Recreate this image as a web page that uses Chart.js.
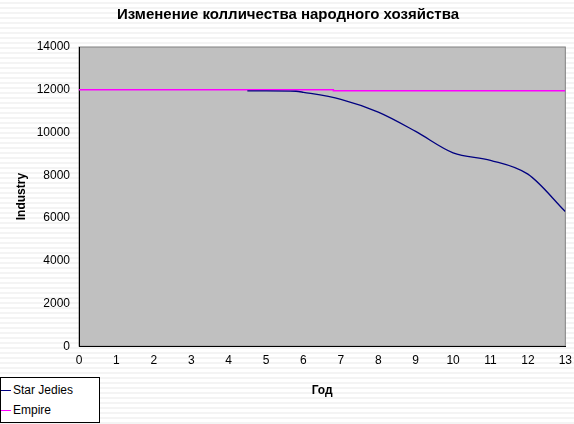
<!DOCTYPE html>
<html>
<head>
<meta charset="utf-8">
<script src="https://cdn.jsdelivr.net/npm/chart.js@4"></script>
<style>
  body { margin: 0; background: #fff; }
  #wrap { position: relative; width: 574px; height: 424px; background: repeating-linear-gradient(0deg, #f4f4f4 0 2px, #fff 2px 5px); }
  #legend { position: absolute; left: 0; top: 377px; width: 98px; height: 44px; border: 1px solid #000; background: #fff; font: 12px Arial, "Liberation Sans", sans-serif; }
  .row { height: 20px; line-height: 20px; white-space: nowrap; }
  .row i { display: inline-block; width: 10px; height: 0; border-top: 1px solid; vertical-align: middle; margin: 0 2px 0 0; }
</style>
</head>
<body>
<div id="wrap">
  <canvas id="c" width="574" height="424"></canvas>
  <div id="legend">
    <div class="row" style="margin-top:2px"><i style="border-color:#000080"></i>Star Jedies</div>
    <div class="row"><i style="border-color:#ff00ff"></i>Empire</div>
  </div>
</div>
<script>
// данные
const jediX = [4.5, 5, 5.8, 6, 7, 8, 9, 10, 11, 12, 13];
const jediY = [11950, 11950, 11930, 11880, 11550, 10950, 10050, 9050, 8700, 8050, 6300];
const empireX = [0, 6.8, 6.8, 13];
const empireY = [12000, 12000, 11950, 11950];
const xTicks = [0, 1, 2, 3, 4, 5, 6, 7, 8, 9, 10, 11, 12, 13];

const plotBg = {
  id: 'plotBg',
  beforeDraw(chart) {
    const { ctx, chartArea: a } = chart;
    ctx.save();
    ctx.fillStyle = '#c0c0c0';
    ctx.fillRect(a.left, a.top, a.right - a.left, a.bottom - a.top);
    ctx.strokeStyle = '#808080';
    ctx.strokeRect(a.left, a.top, a.right - a.left, a.bottom - a.top);
    ctx.restore();
  }
};

new Chart(document.getElementById('c'), {
  type: 'line',
  data: {
    datasets: [
      {
        label: 'Star Jedies',
        data: jediX.map((x, i) => ({ x: x, y: jediY[i] })),
        borderColor: '#000080',
        borderWidth: 1.3,
        pointRadius: 0,
        cubicInterpolationMode: 'monotone'
      },
      {
        label: 'Empire',
        data: empireX.map((x, i) => ({ x: x, y: empireY[i] })),
        borderColor: '#ff00ff',
        borderWidth: 1.5,
        pointRadius: 0,
        tension: 0
      }
    ]
  },
  options: {
    responsive: false,
    animation: false,
    layout: { padding: { top: 0, right: 8, bottom: 22, left: 10 } },
    plugins: {
      legend: { display: false },
      tooltip: { enabled: false },
      title: {
        display: true,
        text: 'Изменение колличества народного хозяйства',
        color: '#000',
        font: { family: 'Arial, "Liberation Sans"', size: 15, weight: 'bold' },
        padding: { top: 6, bottom: 23 }
      }
    },
    scales: {
      x: {
        type: 'linear',
        min: 0, max: 13,
        afterBuildTicks: axis => { axis.ticks = xTicks.map(v => ({ value: v })); },
        grid: { display: false, drawTicks: true, tickLength: 5, tickColor: '#000' },
        border: { color: '#000' },
        ticks: { color: '#000', font: { family: 'Arial, "Liberation Sans"', size: 12 }, maxRotation: 0, padding: 2 },
        title: { display: true, text: 'Год', color: '#000', font: { family: 'Arial, "Liberation Sans"', size: 12, weight: 'bold' }, padding: { top: 14 } }
      },
      y: {
        min: 0, max: 14000,
        ticks: { stepSize: 2000, color: '#000', font: { family: 'Arial, "Liberation Sans"', size: 12 }, padding: 4, callback: v => String(v) },
        grid: { display: false, drawTicks: true, tickLength: 5, tickColor: '#000' },
        border: { color: '#000' },
        title: { display: true, text: 'Industry', color: '#000', font: { family: 'Arial, "Liberation Sans"', size: 12, weight: 'bold' }, padding: { bottom: 6 } },
        afterFit: s => { s.width = 69; }
      }
    }
  },
  plugins: [plotBg]
});
</script>
</body>
</html>
